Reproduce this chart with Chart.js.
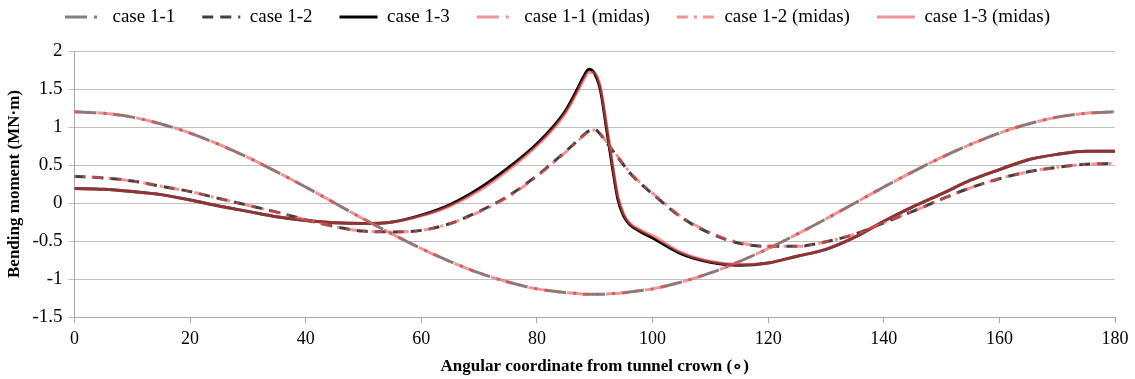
<!DOCTYPE html>
<html>
<head>
<meta charset="utf-8">
<script src="https://cdn.jsdelivr.net/npm/chart.js@4"></script>
<style>
  html, body { margin: 0; padding: 0; background: #fff; }
  #wrap { width: 1135px; height: 379px; }
</style>
</head>
<body>
<div id="wrap"><canvas id="momentChart"></canvas></div>
<script>
// angle from tunnel crown (deg)
const angles = [0, 5, 10, 15, 20, 25, 30, 35, 40, 45, 50, 55, 60, 65, 70, 75, 80, 83, 85, 87, 88, 89, 90, 91, 92, 93, 94, 95, 96, 98, 100,
  105, 110, 115, 120, 125, 130, 135, 140, 145, 150, 155, 160, 165, 170, 175, 180];

const case11 = [1.20, 1.18, 1.13, 1.04, 0.92, 0.77, 0.60, 0.41, 0.21, 0.00, -0.21, -0.41, -0.60, -0.77, -0.92, -1.04, -1.13, -1.16, -1.18, -1.19, -1.20, -1.20, -1.20, -1.20, -1.20, -1.19, -1.19, -1.18, -1.17, -1.15, -1.13,
  -1.04, -0.92, -0.77, -0.60, -0.41, -0.21, 0.00, 0.21, 0.41, 0.60, 0.77, 0.92, 1.04, 1.13, 1.18, 1.20];
const case12 = [0.35, 0.33, 0.29, 0.22, 0.15, 0.06, -0.03, -0.12, -0.22, -0.31, -0.37, -0.38, -0.36, -0.27, -0.11, 0.09, 0.36, 0.55, 0.68, 0.82, 0.89, 0.95, 0.97, 0.90, 0.80, 0.70, 0.60, 0.50, 0.40, 0.25, 0.12,
  -0.19, -0.40, -0.53, -0.57, -0.57, -0.51, -0.41, -0.26, -0.11, 0.05, 0.20, 0.32, 0.41, 0.47, 0.51, 0.52];
const case13 = [0.19, 0.18, 0.15, 0.11, 0.04, -0.04, -0.11, -0.18, -0.23, -0.26, -0.27, -0.25, -0.16, -0.02, 0.19, 0.46, 0.78, 1.02, 1.22, 1.50, 1.65, 1.76, 1.70, 1.48, 1.00, 0.50, 0.05, -0.17, -0.28, -0.38, -0.46,
  -0.67, -0.78, -0.82, -0.79, -0.70, -0.61, -0.45, -0.24, -0.05, 0.12, 0.30, 0.44, 0.57, 0.64, 0.68, 0.68];

const midas11 = [1.20, 1.18, 1.13, 1.04, 0.92, 0.77, 0.60, 0.41, 0.21, 0.00, -0.21, -0.41, -0.60, -0.77, -0.92, -1.04, -1.13, -1.16, -1.18, -1.19, -1.20, -1.20, -1.20, -1.20, -1.20, -1.19, -1.19, -1.18, -1.17, -1.15, -1.13,
  -1.04, -0.92, -0.77, -0.60, -0.41, -0.21, 0.00, 0.21, 0.41, 0.60, 0.77, 0.92, 1.04, 1.13, 1.18, 1.20];
const midas12 = [0.35, 0.33, 0.29, 0.22, 0.15, 0.06, -0.03, -0.12, -0.22, -0.31, -0.37, -0.38, -0.36, -0.27, -0.12, 0.08, 0.35, 0.54, 0.67, 0.81, 0.88, 0.94, 0.96, 0.91, 0.81, 0.71, 0.61, 0.51, 0.41, 0.26, 0.13,
  -0.18, -0.39, -0.52, -0.57, -0.57, -0.51, -0.41, -0.26, -0.11, 0.05, 0.20, 0.32, 0.41, 0.47, 0.51, 0.52];
const midas13 = [0.19, 0.18, 0.15, 0.11, 0.04, -0.04, -0.11, -0.18, -0.23, -0.26, -0.27, -0.25, -0.17, -0.04, 0.16, 0.43, 0.75, 0.99, 1.19, 1.46, 1.61, 1.72, 1.71, 1.52, 1.06, 0.56, 0.10, -0.14, -0.26, -0.36, -0.43,
  -0.65, -0.77, -0.81, -0.79, -0.70, -0.61, -0.45, -0.24, -0.05, 0.12, 0.30, 0.44, 0.57, 0.64, 0.68, 0.68];

const xTicks = [0, 20, 40, 60, 80, 100, 120, 140, 160, 180];

function points(ys) {
  return angles.map((a, i) => ({ x: a, y: ys[i] }));
}

const pink = 'rgba(236, 82, 82, 0.62)';
const serif = "'Liberation Serif', 'Times New Roman', serif";
const legendFont = 19;
const legendGap = 27;

// legend sits high, chart area starts lower (like the original figure)
const legendSpacing = {
  id: 'legendSpacing',
  beforeLayout(chart) {
    const lg = chart.legend;
    if (lg && !lg._patched) {
      const origFit = lg.fit.bind(lg);
      lg.fit = function () { origFit(); this.height = 51; };
      lg._patched = true;
    }
  },
  afterLayout(chart) {
    if (chart.legend) chart.legend.top = 17 - legendGap - legendFont / 2;
  }
};

const ctx = document.getElementById('momentChart').getContext('2d');

new Chart(ctx, {
  type: 'line',
  data: {
    datasets: [
      { label: 'case 1-1', data: points(case11), borderColor: '#7f7f7f', borderDash: [22, 7, 3, 7], order: 1 },
      { label: 'case 1-2', data: points(case12), borderColor: '#404040', borderDash: [11, 7], order: 1 },
      { label: 'case 1-3', data: points(case13), borderColor: '#000000', order: 1 },
      { label: 'case 1-1 (midas)', data: points(midas11), borderColor: pink, borderDash: [22, 7, 3, 7], borderDashOffset: 16, order: 0 },
      { label: 'case 1-2 (midas)', data: points(midas12), borderColor: pink, borderDash: [11, 6, 3, 6], borderDashOffset: 9, order: 0 },
      { label: 'case 1-3 (midas)', data: points(midas13), borderColor: pink, order: 0 }
    ].map(ds => Object.assign({
      borderWidth: 3,
      pointRadius: 0,
      pointStyle: 'line',
      fill: false,
      cubicInterpolationMode: 'monotone'
    }, ds))
  },
  options: {
    responsive: true,
    maintainAspectRatio: false,
    animation: false,
    layout: { padding: { left: 0, right: 20, top: 0, bottom: 0 } },
    plugins: {
      tooltip: { enabled: false },
      legend: {
        position: 'top',
        labels: {
          usePointStyle: true,
          pointStyleWidth: 38,
          padding: legendGap,
          color: '#000',
          font: { family: serif, size: legendFont },
          sort: (a, b) => a.datasetIndex - b.datasetIndex,
          generateLabels: chart => {
            const items = Chart.defaults.plugins.legend.labels.generateLabels(chart);
            items.forEach(item => {
              const ds = chart.data.datasets[item.datasetIndex];
              item.lineDash = ds.borderDash || [];
              item.lineDashOffset = 0;
              item.strokeStyle = ds.borderColor;
              item.lineWidth = 3;
            });
            return items;
          }
        }
      }
    },
    scales: {
      x: {
        type: 'linear',
        min: 0,
        max: 180,
        afterBuildTicks: axis => { axis.ticks = xTicks.map(v => ({ value: v })); },
        ticks: { color: '#000', font: { family: serif, size: 18 }, maxRotation: 0, padding: 5 },
        grid: { drawOnChartArea: false, drawTicks: true, tickLength: 6, color: '#a6a6a6' },
        border: { color: '#a6a6a6' },
        title: {
          display: true,
          text: 'Angular coordinate from tunnel crown (∘)',
          color: '#000',
          font: { family: serif, size: 17, weight: 'bold' },
          padding: { top: 2, bottom: 2 }
        }
      },
      y: {
        min: -1.5,
        max: 2,
        ticks: {
          stepSize: 0.5,
          color: '#000',
          font: { family: serif, size: 19 },
          padding: 6,
          callback: v => String(v)
        },
        grid: { color: '#bfbfbf', tickLength: 6 },
        border: { color: '#a6a6a6' },
        title: {
          display: true,
          text: 'Bending moment (MN·m)',
          color: '#000',
          font: { family: serif, size: 17, weight: 'bold' },
          padding: { top: 4, bottom: 2 }
        }
      }
    }
  },
  plugins: [legendSpacing]
});
</script>
</body>
</html>
